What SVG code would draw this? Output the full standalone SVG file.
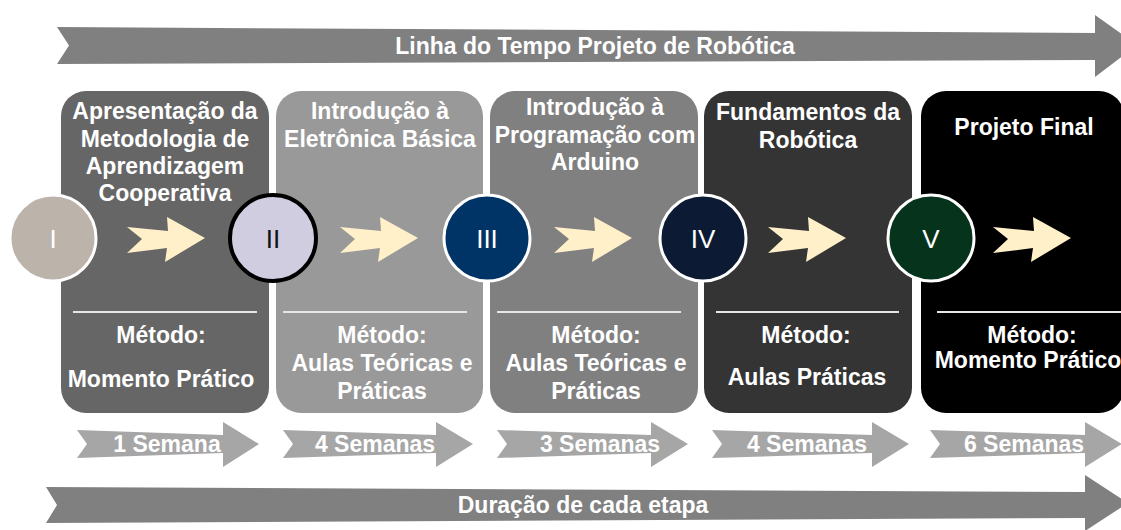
<svg xmlns="http://www.w3.org/2000/svg" width="1121" height="530" viewBox="0 0 1121 530">
<style>
  text { font-family: "Liberation Sans", Arial, sans-serif; fill: #ffffff; }
  .b { font-weight: bold; font-size: 23px; text-anchor: middle; }
  .num { font-size: 26px; text-anchor: middle; }
  .band { fill: #808080; }
  .wk { fill: #a6a6a6; }
  .sep { stroke: #e6e6e6; stroke-width: 2; }
  .yel { fill: #fff0c9; }
  .ring { stroke: #ffffff; stroke-width: 3; }
</style>
<defs>
  <polygon id="yarrow" points="-78,-11 -37,-7 -38,-21 0,0 -40,24 -38,10 -78,15 -63,1"/>
</defs>
<rect width="1121" height="530" fill="#ffffff"/>

<g id="timeline-top">
  <polygon class="band" points="57,27 1095,33 1095,15 1137,45 1095,77 1095,60 57,64 69,45.5"/>
  <text class="b" x="595" y="54">Linha do Tempo Projeto de Robótica</text>
</g>

<g id="card1">
  <rect x="61" y="91" width="208" height="322" rx="25" fill="#666666"/>
  <text class="b" x="165" y="119">Apresentação da</text>
  <text class="b" x="165" y="146.5">Metodologia de</text>
  <text class="b" x="165" y="174">Aprendizagem</text>
  <text class="b" x="165" y="201">Cooperativa</text>
  <line class="sep" x1="73" y1="312" x2="257" y2="312"/>
  <text class="b" x="161" y="343">Método:</text>
  <text class="b" x="161" y="387">Momento Prático</text>
</g>
<g id="card2">
  <rect x="276" y="91" width="207" height="322" rx="25" fill="#999999"/>
  <text class="b" x="380" y="119">Introdução à</text>
  <text class="b" x="380" y="147">Eletrônica Básica</text>
  <line class="sep" x1="283" y1="312" x2="467" y2="312"/>
  <text class="b" x="382" y="343">Método:</text>
  <text class="b" x="382" y="371">Aulas Teóricas e</text>
  <text class="b" x="382" y="399">Práticas</text>
</g>
<g id="card3">
  <rect x="490" y="91" width="208" height="322" rx="25" fill="#808080"/>
  <text class="b" x="595" y="115">Introdução à</text>
  <text class="b" x="595" y="143">Programação com</text>
  <text class="b" x="595" y="170">Arduino</text>
  <line class="sep" x1="497" y1="312" x2="681" y2="312"/>
  <text class="b" x="596" y="343">Método:</text>
  <text class="b" x="596" y="371">Aulas Teóricas e</text>
  <text class="b" x="596" y="399">Práticas</text>
</g>
<g id="card4">
  <rect x="704" y="91" width="208" height="322" rx="25" fill="#343434"/>
  <text class="b" x="808" y="120">Fundamentos da</text>
  <text class="b" x="808" y="148">Robótica</text>
  <line class="sep" x1="716" y1="312" x2="899" y2="312"/>
  <text class="b" x="806" y="343">Método:</text>
  <text class="b" x="807" y="385">Aulas Práticas</text>
</g>
<g id="card5">
  <rect x="921" y="91" width="203" height="322" rx="25" fill="#000000"/>
  <text class="b" x="1024" y="135">Projeto Final</text>
  <line class="sep" x1="937" y1="312" x2="1121" y2="312"/>
  <text class="b" x="1032" y="343">Método:</text>
  <text class="b" x="1028" y="368">Momento Prático</text>
</g>

<g id="connectors">
  <use href="#yarrow" class="yel" x="205" y="238"/>
  <use href="#yarrow" class="yel" x="418" y="238"/>
  <use href="#yarrow" class="yel" x="632" y="238"/>
  <use href="#yarrow" class="yel" x="846" y="238"/>
  <use href="#yarrow" class="yel" x="1071" y="238"/>
</g>

<g id="circle1">
  <circle class="ring" cx="53" cy="238" r="43" fill="#bcb3aa"/>
  <text class="num" x="53" y="248">I</text>
</g>
<g id="circle2">
  <circle cx="273" cy="238" r="43" fill="#d0cde1" stroke="#000000" stroke-width="4"/>
  <text class="num" x="273" y="248" style="fill:#111111">II</text>
</g>
<g id="circle3">
  <circle class="ring" cx="487" cy="238" r="43" fill="#003366"/>
  <text class="num" x="487" y="248">III</text>
</g>
<g id="circle4">
  <circle class="ring" cx="703" cy="238" r="43" fill="#0c1b33"/>
  <text class="num" x="703" y="248">IV</text>
</g>
<g id="circle5">
  <circle class="ring" cx="931" cy="238" r="43" fill="#06331c"/>
  <text class="num" x="931" y="248">V</text>
</g>

<g id="week1">
  <polygon class="wk" points="77,430 223,435 223,422 259,444 223,467 223,453 77,458 87,444"/>
  <text class="b" x="167" y="452">1 Semana</text>
</g>
<g id="week2">
  <polygon class="wk" points="283,430 436,435 436,422 473,444 436,467 436,453 283,458 293,444"/>
  <text class="b" x="375" y="452">4 Semanas</text>
</g>
<g id="week3">
  <polygon class="wk" points="497,430 651,435 651,422 688,444 651,467 651,453 497,458 507,444"/>
  <text class="b" x="600" y="452">3 Semanas</text>
</g>
<g id="week4">
  <polygon class="wk" points="712,430 872,435 872,422 909,444 872,467 872,453 712,458 722,444"/>
  <text class="b" x="807" y="452">4 Semanas</text>
</g>
<g id="week5">
  <polygon class="wk" points="930,430 1085,435 1085,422 1122,444 1085,467 1085,453 930,458 940,444"/>
  <text class="b" x="1024" y="452">6 Semanas</text>
</g>

<g id="timeline-bottom">
  <polygon class="band" points="46,487 1085,492 1085,475 1128,503 1085,531 1085,518 46,523 57,505"/>
  <text class="b" x="583" y="513">Duração de cada etapa</text>
</g>
</svg>
